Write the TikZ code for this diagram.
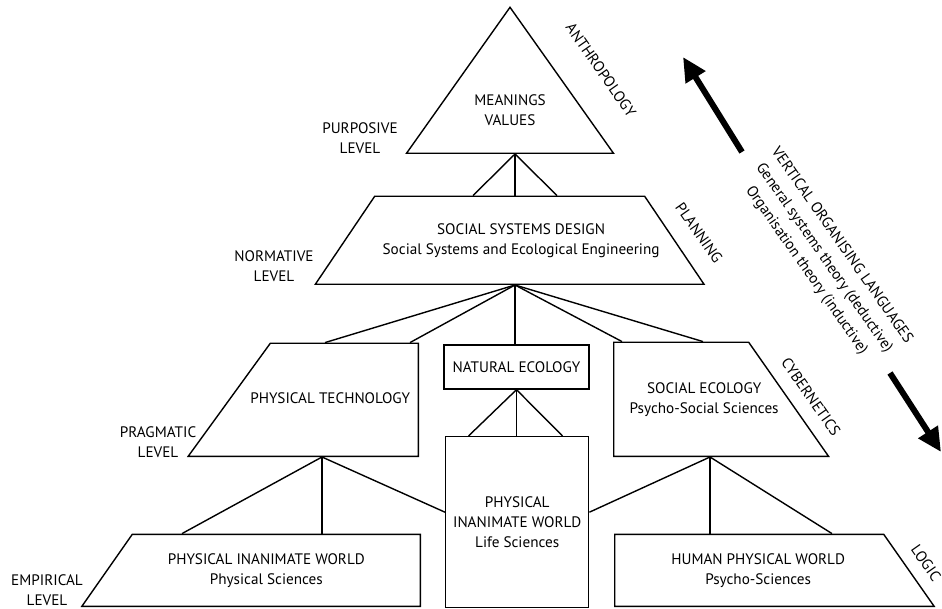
\documentclass[tikz,border=0pt]{standalone}
\usepackage{fontspec}
\setmainfont{PT Sans}
\usetikzlibrary{shapes.geometric,arrows.meta}

% body of a trapezium: width, height, text shift, text
\newcommand{\trapbody}[4]{\parbox[c][#2][c]{#1}{\centering\hspace*{#3}\begin{tabular}{@{}c@{}}#4\end{tabular}\hspace*{-#3}}}

\begin{document}
\begin{tikzpicture}[
  x=1pt, y=-1pt,
  font=\fontsize{15.2}{20}\selectfont,
  part/.style={draw, line width=1.4pt, align=center, inner sep=0pt},
  tri/.style={part, isosceles triangle, isosceles triangle stretches, shape border rotate=90},
  trap/.style={part, trapezium},
  box/.style={part, rectangle},
  lvl/.style={align=center, inner sep=0pt},
  side/.style={align=center, inner sep=0pt, rotate=-55},
  link/.style={line width=1.4pt},
  bigarrow/.style={line width=6pt, -{Triangle[length=24pt, width=22pt]}}
]
\useasboundingbox (0,0) rectangle (942,609);

% pyramid
\node[tri, minimum width=207pt, minimum height=146pt, anchor=lower side] (mv) at (510,154)
  {\raisebox{18pt}{\begin{tabular}{@{}c@{}}MEANINGS\\VALUES\end{tabular}}};
\node[trap, trapezium left angle=56, trapezium right angle=56, anchor=bottom left corner] (ssd) at (314,285)
  {\trapbody{270pt}{88pt}{8pt}{SOCIAL SYSTEMS DESIGN\\Social Systems and Ecological Engineering}};

\node[trap, trapezium left angle=54, trapezium right angle=90, anchor=bottom right corner] (pt) at (419,457)
  {\trapbody{148pt}{113pt}{-20pt}{PHYSICAL TECHNOLOGY}};
\node[box, minimum width=145pt, minimum height=44pt] (ne) at (516.5,367) {NATURAL ECOLOGY};
\node[trap, trapezium left angle=90, trapezium right angle=55, anchor=bottom left corner] (se) at (613,457)
  {\trapbody{135pt}{114pt}{16pt}{SOCIAL ECOLOGY\\Psycho-Social Sciences}};

\node[trap, trapezium left angle=55, trapezium right angle=90, anchor=bottom right corner] (piw) at (421,607)
  {\trapbody{288pt}{72pt}{-10pt}{PHYSICAL INANIMATE WORLD\\Physical Sciences}};
\node[box, minimum width=143pt, minimum height=171pt, anchor=north west] (ls) at (445,436) {PHYSICAL\\INANIMATE WORLD\\Life Sciences};
\node[trap, trapezium left angle=90, trapezium right angle=55, anchor=bottom left corner] (hpw) at (614,607)
  {\trapbody{269pt}{72pt}{9pt}{HUMAN PHYSICAL WORLD\\Psycho-Sciences}};

% levels
\node[lvl] (purp) at (360,138) {PURPOSIVE\\LEVEL};
\node[lvl] (norm) at (274,266) {NORMATIVE\\LEVEL};
\node[lvl] (prag) at (158,442) {PRAGMATIC\\LEVEL};
\node[lvl] (emp) at (47,590) {EMPIRICAL\\LEVEL};

\node[side] (anth) at (601,70) {ANTHROPOLOGY};
\node[side] (plan) at (699,233) {PLANNING};
\node[side] (cyb) at (811,397) {CYBERNETICS};
\node[side] (logic) at (926,563) {LOGIC};

\node[side] (vol) at (824,258) {VERTICAL ORGANISING LANGUAGES\\[1.5pt]General systems theory (deductive)\\[1.5pt]Organisation theory (inductive)};

\coordinate (up-tail) at (742,152);
\coordinate (up-tip) at (683,57);
\coordinate (down-tail) at (890,373);
\coordinate (down-tip) at (941,452);
\draw[bigarrow] (up-tail) -- (up-tip);
\draw[bigarrow] (down-tail) -- (down-tip);

% connectors
\coordinate (mv-hub) at ([xshift=5]mv.lower side);
\foreach \dx in {-42,0,42}
  \draw[link] (mv-hub) -- ([xshift=\dx]mv-hub |- ssd.north);

\coordinate (ssd-hub) at (mv-hub |- ssd.south);
\foreach \dx in {-190,-105}
  \draw[link] (ssd-hub) -- ([xshift=\dx]ssd-hub |- pt.north);
\draw[link] (ssd-hub) -- (ssd-hub |- ne.north);
\foreach \dx in {107,188}
  \draw[link] (ssd-hub) -- ([xshift=\dx]ssd-hub |- se.north);

\foreach \dx in {-48,0,46}
  \draw[link] (ne.south) -- ([xshift=\dx]ne.south |- ls.north);

\coordinate (pt-hub) at ([xshift=-97]pt.bottom right corner);
\draw[link] (pt-hub) -- ([xshift=-140]pt-hub |- piw.north);
\draw[link] (pt-hub) -- (pt-hub |- piw.north);
\draw[link] (pt-hub) -- ([yshift=10]ls.west);

\coordinate (se-hub) at ([xshift=97]se.bottom left corner);
\draw[link] (se-hub) -- ([yshift=10]ls.east);
\draw[link] (se-hub) -- (se-hub |- hpw.north);
\draw[link] (se-hub) -- ([xshift=122]se-hub |- hpw.north);
\end{tikzpicture}
\end{document}
